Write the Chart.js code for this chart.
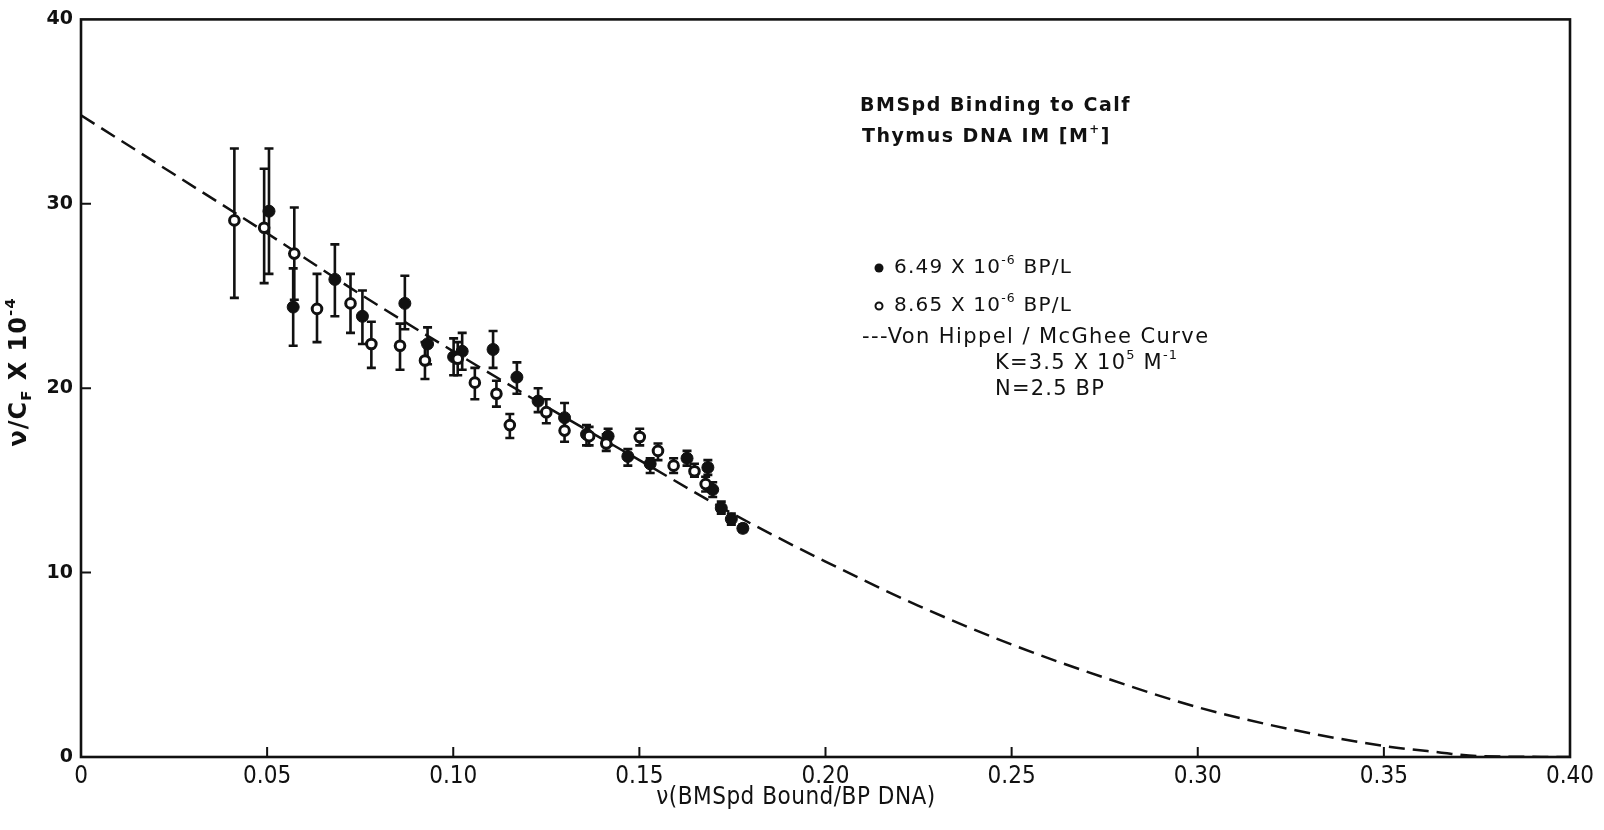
<!DOCTYPE html>
<html>
<head>
<meta charset="utf-8">
<script src="https://cdn.jsdelivr.net/npm/chart.js@4.4.1/dist/chart.umd.min.js"></script>
<style>
html,body{margin:0;padding:0;background:#fff;}
#wrap{width:1604px;height:830px;position:relative;}
</style>
</head>
<body>
<div id="wrap"><canvas id="c"></canvas></div>
<script>
// ---- data ----
const xTicks = [0, 0.05, 0.10, 0.15, 0.20, 0.25, 0.30, 0.35, 0.40];
const yTicks = [0, 10, 20, 30, 40];

// series 1: 6.49 x 10^-6 BP/L (filled)
const fillX  = [0.0505,0.0570,0.0682,0.0756,0.0870,0.0931,0.1001,0.1024,0.1107,0.1171,0.1228,0.1299,0.1358,0.1416,0.1469,0.1529,0.1628,0.1684,0.1697,0.1720,0.1747,0.1778];
const fillY  = [29.6,24.4,25.9,23.9,24.6,22.4,21.7,22.0,22.1,20.6,19.3,18.4,17.5,17.4,16.3,15.9,16.2,15.7,14.5,13.5,12.9,12.4];
const fillHi = [33.0,26.5,27.8,25.3,26.1,23.3,22.7,23.0,23.1,21.4,20.0,19.2,18.0,17.8,16.7,16.2,16.6,16.1,14.9,13.85,13.2,12.6];
const fillLo = [26.2,22.3,23.9,22.4,23.2,21.3,20.7,21.0,21.1,19.7,18.7,17.7,16.9,16.9,15.8,15.4,15.8,15.3,14.1,13.2,12.6,12.2];

// series 2: 8.65 x 10^-6 BP/L (open)
const openX  = [0.0412,0.0492,0.0573,0.0634,0.0724,0.0780,0.0857,0.0924,0.1012,0.1058,0.1116,0.1152,0.1250,0.1299,0.1365,0.1411,0.1501,0.1550,0.1592,0.1648,0.1678];
const openY  = [29.1,28.7,27.3,24.3,24.6,22.4,22.3,21.5,21.6,20.3,19.7,18.0,18.7,17.7,17.4,17.0,17.35,16.6,15.8,15.5,14.8];
const openHi = [33.0,31.9,29.8,26.2,26.2,23.6,23.5,22.5,22.5,21.1,20.4,18.6,19.4,18.3,17.9,17.5,17.8,17.0,16.2,15.9,15.2];
const openLo = [24.9,25.7,24.8,22.5,23.0,21.1,21.0,20.5,20.7,19.4,19.0,17.3,18.1,17.1,16.9,16.6,16.9,16.1,15.4,15.2,14.4];

// Von Hippel / McGhee curve
const curveX = [0,0.025,0.05,0.075,0.10,0.125,0.15,0.175,0.20,0.225,0.25,0.275,0.30,0.325,0.35,0.365,0.375,0.40];
const curveY = [34.8,31.6,28.4,25.1,22.0,19.0,16.1,13.2,10.6,8.2,6.1,4.3,2.7,1.5,0.6,0.25,0.05,0];

const INK = '#111';
const toPts = (xs, ys) => xs.map((x, i) => ({x, y: ys[i]}));

function drawRich(ctx, x, y, parts, family, size, weight, spacing, align) {
  ctx.save();
  ctx.textBaseline = 'middle';
  ctx.textAlign = 'left';
  ctx.fillStyle = INK;
  try { ctx.letterSpacing = spacing + 'px'; } catch (e) {}
  const seg = parts.map(p => {
    const kind = p[1] || '';
    const s = kind ? size * 0.62 : size;
    ctx.font = weight + ' ' + s + 'px ' + family;
    return {t: p[0], kind, s, w: ctx.measureText(p[0]).width};
  });
  const total = seg.reduce((a, b) => a + b.w, 0);
  let cx = align === 'center' ? x - total / 2 : x;
  for (const sg of seg) {
    ctx.font = weight + ' ' + sg.s + 'px ' + family;
    let dy = 0;
    if (sg.kind === 'sup') dy = -size * 0.38;
    if (sg.kind === 'sub') dy = size * 0.28;
    ctx.fillText(sg.t, cx, y + dy);
    cx += sg.w;
  }
  ctx.restore();
}

const errorBars = {
  id: 'errorBars',
  beforeDatasetsDraw(chart) {
    const {ctx, scales: {x, y}} = chart;
    ctx.save();
    ctx.strokeStyle = INK;
    ctx.lineWidth = 2.6;
    const sets = [[fillX, fillLo, fillHi], [openX, openLo, openHi]];
    for (const [xs, lo, hi] of sets) {
      xs.forEach((v, i) => {
        const px = x.getPixelForValue(v);
        const p1 = y.getPixelForValue(lo[i]);
        const p2 = y.getPixelForValue(hi[i]);
        ctx.beginPath();
        ctx.moveTo(px, p1); ctx.lineTo(px, p2);
        ctx.moveTo(px - 4.5, p1); ctx.lineTo(px + 4.5, p1);
        ctx.moveTo(px - 4.5, p2); ctx.lineTo(px + 4.5, p2);
        ctx.stroke();
      });
    }
    ctx.restore();
  }
};

const frame = {
  id: 'frame',
  afterDraw(chart) {
    const {ctx, chartArea: a, scales: {x, y}} = chart;
    ctx.save();
    ctx.strokeStyle = INK;
    ctx.lineWidth = 2.6;
    ctx.strokeRect(a.left, a.top, a.right - a.left, a.bottom - a.top);
    ctx.lineWidth = 2;
    ctx.beginPath();
    xTicks.forEach(v => {
      if (v === 0 || v === 0.40) return;
      const px = x.getPixelForValue(v);
      ctx.moveTo(px, a.bottom); ctx.lineTo(px, a.bottom - 10);
    });
    yTicks.forEach(v => {
      if (v === 0 || v === 40) return;
      const py = y.getPixelForValue(v);
      ctx.moveTo(a.left, py); ctx.lineTo(a.left + 10, py);
    });
    ctx.stroke();

    // axis titles
    ctx.save();
    ctx.translate(20, 372);
    ctx.rotate(-Math.PI / 2);
    drawRich(ctx, 0, 0, [['ν/C'], ['F', 'sub'], [' X 10'], ['-4', 'sup']], '"DejaVu Sans"', 24, '600', 1, 'center');
    ctx.restore();
    drawRich(ctx, 796, 798, [['ν(BMSpd Bound/BP DNA)']], '"Liberation Sans Narrow","DejaVu Sans Condensed",sans-serif', 24, 'normal', 0.5, 'center');

    // annotation block
    const bf = '"DejaVu Sans"';
    drawRich(ctx, 860, 106, [['BMSpd Binding to Calf']], bf, 19, 'bold', 1.5);
    drawRich(ctx, 862, 137, [['Thymus DNA IM [M'], ['+', 'sup'], [']']], bf, 19, 'bold', 1.5);

    ctx.fillStyle = INK;
    ctx.beginPath(); ctx.arc(879, 268, 4.5, 0, Math.PI * 2); ctx.fill();
    ctx.lineWidth = 2;
    ctx.beginPath(); ctx.arc(879, 306, 3.5, 0, Math.PI * 2); ctx.stroke();

    drawRich(ctx, 894, 268, [['6.49 X 10'], ['-6', 'sup'], [' BP/L']], bf, 20, 'normal', 1.2);
    drawRich(ctx, 894, 306, [['8.65 X 10'], ['-6', 'sup'], [' BP/L']], bf, 20, 'normal', 1.2);
    drawRich(ctx, 862, 338, [['---Von Hippel / McGhee Curve']], bf, 21, 'normal', 1.4);
    drawRich(ctx, 995, 364, [['K=3.5 X 10'], ['5', 'sup'], [' M'], ['-1', 'sup']], bf, 21, 'normal', 1.2);
    drawRich(ctx, 995, 390, [['N=2.5 BP']], bf, 21, 'normal', 1.2);
    ctx.restore();
  }
};

new Chart(document.getElementById('c'), {
  type: 'scatter',
  data: {
    datasets: [
      {
        label: 'Von Hippel / McGhee Curve',
        data: toPts(curveX, curveY),
        showLine: true,
        borderColor: INK,
        borderWidth: 2.5,
        borderDash: [16, 8],
        pointRadius: 0,
        tension: 0.4,
        cubicInterpolationMode: 'monotone',
        fill: false,
        order: 3
      },
      {
        label: '6.49 X 10^-6 BP/L',
        data: toPts(fillX, fillY),
        pointRadius: 6,
        pointBackgroundColor: INK,
        pointBorderColor: INK,
        pointBorderWidth: 1,
        order: 2
      },
      {
        label: '8.65 X 10^-6 BP/L',
        data: toPts(openX, openY),
        pointRadius: 4.8,
        pointBackgroundColor: '#fff',
        pointBorderColor: INK,
        pointBorderWidth: 3,
        order: 1
      }
    ]
  },
  options: {
    responsive: true,
    maintainAspectRatio: false,
    animation: false,
    layout: {padding: {left: 0, top: 13, right: 34, bottom: 0}},
    plugins: {legend: {display: false}, tooltip: {enabled: false}},
    scales: {
      x: {
        type: 'linear', min: 0, max: 0.40,
        afterFit(s) { s.height = 73; },
        grid: {display: false, drawTicks: false},
        border: {display: false},
        afterBuildTicks(s) { s.ticks = xTicks.map(v => ({value: v})); },
        ticks: {
          color: INK, padding: 5,
          font: {family: '"Liberation Sans Narrow","DejaVu Sans Condensed",sans-serif', size: 24},
          callback: v => v === 0 ? '0' : v.toFixed(2)
        }
      },
      y: {
        type: 'linear', min: 0, max: 40,
        afterFit(s) { s.width = 81; },
        grid: {display: false, drawTicks: false},
        border: {display: false},
        afterBuildTicks(s) { s.ticks = yTicks.map(v => ({value: v})); },
        ticks: {
          color: INK, padding: 8,
          font: {family: '"DejaVu Sans"', size: 19, weight: 'bold'},
          callback: v => String(v)
        }
      }
    }
  },
  plugins: [errorBars, frame]
});
</script>
</body>
</html>
